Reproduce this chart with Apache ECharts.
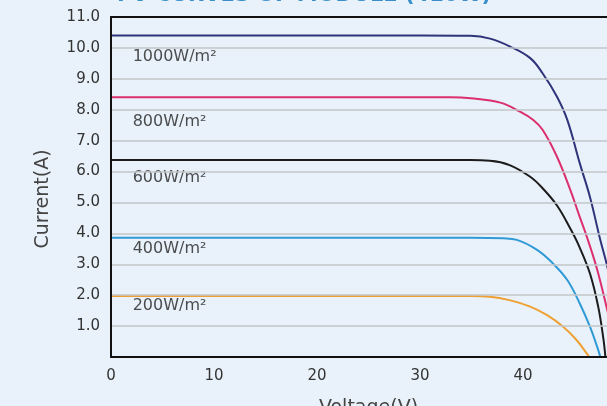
<!DOCTYPE html>
<html>
<head>
<meta charset="utf-8">
<script src="https://cdn.jsdelivr.net/npm/echarts@6/dist/echarts.min.js"></script>
<style>
html,body{margin:0;padding:0;background:#e9f2fa;}
#c{width:607px;height:406px;}
</style>
</head>
<body>
<div id="c"></div>
<script>
// Voltage (V), Current (A) pairs
const curve1000 = [[0,10.4],[30,10.4],[34.9,10.39],[36.8,10.3],[38.7,10.05],[40.7,9.67],[41.9,9.18],[43.3,8.42],[44.3,7.67],[45.5,6.28],[46.5,5.18],[47.5,3.79],[48.2,2.9],[49.0,1.55],[49.8,0]];
const curve800  = [[0,8.4],[33,8.4],[34.9,8.37],[37.8,8.23],[39.7,7.94],[41.0,7.67],[41.9,7.35],[43.3,6.48],[44.6,5.40],[45.5,4.54],[46.3,3.79],[47.2,2.83],[48.2,1.5],[49.3,0]];
const curve600  = [[0,6.37],[33,6.37],[34.9,6.37],[36.8,6.35],[38.7,6.21],[40.7,5.83],[41.9,5.46],[43.3,4.9],[44.6,4.15],[45.4,3.62],[46.5,2.7],[47.3,1.63],[47.8,0.6],[48.0,0]];
const curve400  = [[0,3.86],[35,3.86],[38.1,3.84],[39.4,3.79],[41.4,3.46],[42.9,3.03],[44.3,2.49],[45.5,1.74],[46.5,0.98],[47.3,0.23],[47.5,0]];
const curve200  = [[0,1.97],[35,1.97],[36.8,1.95],[38.7,1.84],[40.7,1.63],[42.3,1.36],[43.9,0.98],[45.2,0.55],[46.3,0.06],[46.4,0]];
const seriesNames = ['1000W/m²','800W/m²','600W/m²','400W/m²','200W/m²'];
const seriesColors = ['#2f3379','#dc2f6e','#1c1c1c','#2f9ad6','#efa033'];
const labelAnchors = [[2.1,9.72],[2.1,7.62],[2.1,5.8],[2.1,3.5],[2.1,1.65]];
const xTicks = [0,10,20,30,40,50];
const yTicks = [0,1,2,3,4,5,6,7,8,9,10,11];
const titleText = 'I-V CURVES OF MODULE (410W)';

const curves = [curve1000, curve800, curve600, curve400, curve200];
const FONT = 'DejaVu Sans';

const chart = echarts.init(document.getElementById('c'), null, {renderer:'canvas'});
const series = curves.map((d,i)=>({
  type:'line', name:seriesNames[i], data:d, showSymbol:false, smooth:0.4,
  lineStyle:{color:seriesColors[i], width:2}, itemStyle:{color:seriesColors[i]}, z:3, silent:true
}));
series.push({
  type:'scatter', symbolSize:0, silent:true,
  data: labelAnchors.map((p,i)=>[p[0],p[1],seriesNames[i]]),
  label:{show:true, position:'right', distance:0, formatter:p=>p.value[2],
    fontFamily:FONT, fontSize:16, color:'#222'}
});

const axisLineStyle = {color:'#111', width:2};
chart.setOption({
  animation:false,
  backgroundColor:'#e9f2fa',
  graphic:[{type:'text', left:117, top:-15, style:{text:titleText, font:'bold 21px "DejaVu Sans"', fill:'#3a8fca'}}],
  grid:{left:111, top:17, height:340, width:515, outerBoundsMode:'none', containLabel:false},
  xAxis:[{type:'value', min:xTicks[0], max:xTicks[xTicks.length-1], interval:10,
    name:'Voltage(V)', nameLocation:'middle', nameGap:42,
    nameTextStyle:{fontFamily:FONT, fontSize:19, color:'#444'},
    axisLine:{show:true, onZero:false, lineStyle:axisLineStyle}, axisTick:{show:false},
    axisLabel:{fontFamily:FONT, fontSize:15, color:'#333', margin:12},
    splitLine:{show:false}, z:5},
   {type:'value', position:'top', min:xTicks[0], max:xTicks[xTicks.length-1], interval:10,
    axisLine:{show:true, onZero:false, lineStyle:axisLineStyle}, axisTick:{show:false},
    axisLabel:{show:false}, splitLine:{show:false}, z:5}],
  yAxis:{type:'value', min:yTicks[0], max:yTicks[yTicks.length-1], interval:1,
    name:'Current(A)', nameLocation:'middle', nameGap:58, nameRotate:90,
    nameTextStyle:{fontFamily:FONT, fontSize:19, color:'#444', padding:[0,24,0,0]},
    axisLine:{show:true, onZero:false, lineStyle:axisLineStyle}, axisTick:{show:false},
    axisLabel:{fontFamily:FONT, fontSize:15, color:'#333', margin:11, formatter:v=> v===0 ? '' : v.toFixed(1)},
    splitLine:{show:true, lineStyle:{color:'#c2c6ca', width:1.5}}, z:5},
  series:series
});
</script>
</body>
</html>
